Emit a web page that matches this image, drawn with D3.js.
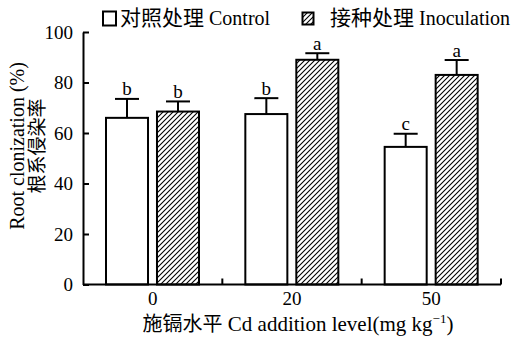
<!DOCTYPE html>
<html>
<head>
<meta charset="utf-8">
<script src="https://cdn.jsdelivr.net/npm/d3@7"></script>
<style>
  html, body { margin: 0; padding: 0; background: #fff; }
  svg { display: block; }
</style>
</head>
<body>
<svg id="chart" width="513" height="337"></svg>
<script>
// ---- data ----
const categories = ["0", "20", "50"];
const seriesNames = ["对照处理 Control", "接种处理 Inoculation"];
const controlValues = [66.0, 67.5, 54.5];
const controlErrors = [7.5, 6.3, 5.2];
const inoculationValues = [68.5, 89.0, 83.0];
const inoculationErrors = [4.0, 2.6, 5.9];
const controlLetters = ["b", "b", "c"];
const inoculationLetters = ["b", "a", "a"];
const yTicks = [0, 20, 40, 60, 80, 100];

const SERIF = '"Liberation Serif", "Times New Roman", serif';
const CJK = '"Noto Sans CJK SC", sans-serif';

const svg = d3.select("#chart");
const mLeft = 83, mRight = 501, mTop = 32, mBottom = 284.5;

// pattern
const defs = svg.append("defs");
const pat = defs.append("pattern").attr("id", "hatch")
  .attr("patternUnits", "userSpaceOnUse").attr("width", 5).attr("height", 5);
pat.append("rect").attr("width", 5).attr("height", 5).attr("fill", "#fff");
pat.append("path").attr("d", "M-1,1 l2,-2 M0,5 l5,-5 M4,6 l2,-2")
  .attr("stroke", "#000").attr("stroke-width", 1.1);

const x0 = d3.scaleBand().domain(categories).range([mLeft, mRight]).padding(0);
const x1 = d3.scaleBand().domain([0, 1]).range([23, 23 + 93]).paddingInner(0.176);
const y = d3.scaleLinear().domain([0, 100]).range([mBottom, mTop]);

const series = [
  { name: seriesNames[0], values: controlValues, errors: controlErrors, letters: controlLetters, fill: "#fff" },
  { name: seriesNames[1], values: inoculationValues, errors: inoculationErrors, letters: inoculationLetters, fill: "url(#hatch)" }
];

series.forEach((s, si) => {
  const g = svg.append("g");
  categories.forEach((c, i) => {
    const bx = x0(c) + x1(si);
    const bw = x1.bandwidth();
    const cx = bx + bw / 2;
    const v = s.values[i], e = s.errors[i];
    g.append("rect").attr("x", bx).attr("y", y(v)).attr("width", bw).attr("height", y(0) - y(v))
      .attr("fill", s.fill).attr("stroke", "#000").attr("stroke-width", 2);
    g.append("line").attr("x1", cx).attr("x2", cx).attr("y1", y(v)).attr("y2", y(v + e))
      .attr("stroke", "#000").attr("stroke-width", 2);
    g.append("line").attr("x1", cx - 12).attr("x2", cx + 12).attr("y1", y(v + e)).attr("y2", y(v + e))
      .attr("stroke", "#000").attr("stroke-width", 2);
    g.append("text").attr("font-family", SERIF).attr("x", cx).attr("y", y(v + e) - 3.5)
      .attr("text-anchor", "middle").attr("font-size", 19).text(s.letters[i]);
  });
});

// y axis
const yAxis = svg.append("g").attr("transform", `translate(${mLeft},0)`)
  .call(d3.axisLeft(y).tickValues(yTicks).tickSize(-6).tickPadding(10).tickSizeOuter(0));
yAxis.attr("font-family", SERIF).attr("font-size", 19);
yAxis.select(".domain").attr("stroke-width", 2);
yAxis.selectAll(".tick line").attr("stroke-width", 2);
yAxis.selectAll("text").attr("fill", "#000");

// x axis: ticks at group boundaries
const xAxisG = svg.append("g").attr("transform", `translate(0,${mBottom})`);
xAxisG.append("line").attr("x1", mLeft).attr("x2", mRight).attr("y1", 0).attr("y2", 0)
  .attr("stroke", "#000").attr("stroke-width", 2);
const boundaries = categories.map(c => x0(c) + x0.bandwidth());
xAxisG.selectAll("line.tk").data(boundaries).enter().append("line").attr("class", "tk")
  .attr("x1", d => d).attr("x2", d => d).attr("y1", 0).attr("y2", -6)
  .attr("stroke", "#000").attr("stroke-width", 2);
xAxisG.selectAll("text").data(categories).enter().append("text").attr("font-family", SERIF)
  .attr("x", d => x0(d) + x0.bandwidth() / 2).attr("y", 20.5).attr("text-anchor", "middle")
  .attr("font-size", 19).text(d => d);

// x label
const xl = svg.append("text").attr("font-family", SERIF).attr("x", 298).attr("y", 331)
  .attr("text-anchor", "middle").attr("font-size", 21);
xl.append("tspan").attr("font-family", CJK).attr("font-size", 20).text("施镉水平");
xl.append("tspan").text(" Cd addition level(mg kg");
xl.append("tspan").attr("font-size", 13).attr("dy", -8).text("−1");
xl.append("tspan").attr("dy", 8).text(")");

// y labels
svg.append("text").attr("font-family", SERIF).attr("transform", "translate(24,146) rotate(-90)")
  .attr("text-anchor", "middle").attr("font-size", 20).text("Root clonization (%)");
svg.append("text").attr("font-family", CJK).attr("transform", "translate(44,146) rotate(-90)")
  .attr("text-anchor", "middle").attr("font-size", 19).text("根系侵染率");

// legend
const lg = svg.append("g");
lg.append("rect").attr("x", 103).attr("y", 11.5).attr("width", 13).attr("height", 14)
  .attr("fill", "#fff").attr("stroke", "#000").attr("stroke-width", 2);
const t1 = lg.append("text").attr("font-family", SERIF).attr("x", 120).attr("y", 25).attr("font-size", 20);
t1.append("tspan").attr("font-family", CJK).attr("font-size", 21).text("对照处理");
t1.append("tspan").text(" Control");
lg.append("rect").attr("x", 302.5).attr("y", 12.5).attr("width", 11).attr("height", 12)
  .attr("fill", "url(#hatch)").attr("stroke", "#000").attr("stroke-width", 2);
const t2 = lg.append("text").attr("font-family", SERIF).attr("x", 330).attr("y", 25).attr("font-size", 20);
t2.append("tspan").attr("font-family", CJK).attr("font-size", 21).text("接种处理");
t2.append("tspan").text(" Inoculation");
</script>
</body>
</html>
